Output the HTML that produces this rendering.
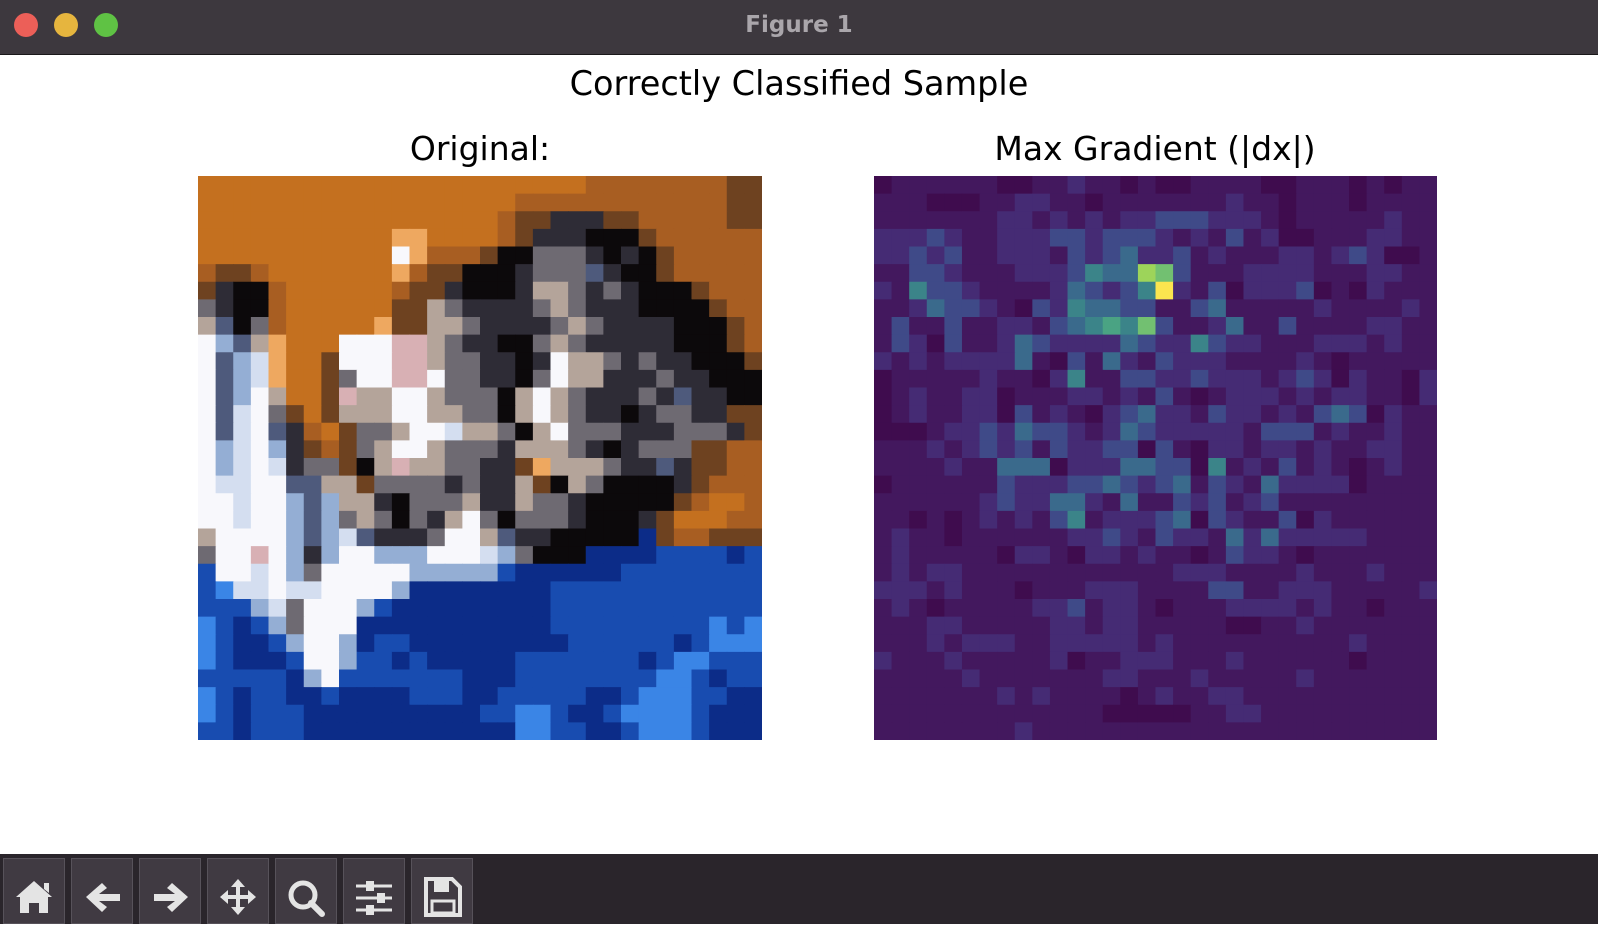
<!DOCTYPE html>
<html><head><meta charset="utf-8"><style>
body{margin:0;width:1598px;height:924px;overflow:hidden;background:#fff;font-family:"DejaVu Sans","Liberation Sans",sans-serif;position:relative}
#titlebar{position:absolute;left:0;top:0;width:1598px;height:54px;background:#3d383e;border-bottom:1px solid #1a181a}
.dot{position:absolute;top:13px;width:24px;height:24px;border-radius:50%}
#wintitle{position:absolute;left:0;width:1598px;top:12px;text-align:center;color:#aaa6ab;font-weight:bold;font-size:23px}
#toolbar{position:absolute;left:0;top:854px;width:1598px;height:70px;background:#2a252b}
.btn{position:absolute;top:4px;width:62px;height:66px;background:#403a42;border:1px solid #57525a;box-sizing:border-box}
.txt{position:absolute;text-align:center;color:#000;white-space:nowrap}
</style></head><body>
<div id="titlebar">
<div class="dot" style="left:14px;background:#ec5f58"></div>
<div class="dot" style="left:54px;background:#e6b53e"></div>
<div class="dot" style="left:94px;background:#5fc244"></div>
<div id="wintitle">Figure 1</div>
</div>
<div class="txt" style="left:0;width:1598px;top:64px;font-size:33.5px">Correctly Classified Sample</div>
<div class="txt" style="left:280px;width:400px;top:129px;font-size:33px">Original:</div>
<div class="txt" style="left:905px;width:500px;top:129px;font-size:33px">Max Gradient (|dx|)</div>
<svg id="orig" style="position:absolute;left:198px;top:176px" width="564" height="564"></svg>
<svg id="grad" style="position:absolute;left:874px;top:176px" width="563" height="564"></svg>
<div id="toolbar">
<div class="btn" style="left:3px"><svg width="60" height="64"><path d="M12 38 L30 22 L48 38 L44 38 L44 54 L35 54 L35 44 L25 44 L25 54 L16 54 L16 38Z M40 24 h5 v10 l-5-4z" fill="#e4e4e4"/></svg></div>
<div class="btn" style="left:71px"><svg width="60" height="64"><path d="M14 38 L30 24 L35 29 L27 35 L48 35 L48 42 L27 42 L35 48 L30 53Z" fill="#e4e4e4"/></svg></div>
<div class="btn" style="left:139px"><svg width="60" height="64"><path d="M48 38 L32 24 L27 29 L35 35 L14 35 L14 42 L35 42 L27 48 L32 53Z" fill="#e4e4e4"/></svg></div>
<div class="btn" style="left:207px"><svg width="60" height="64"><path d="M30 20 L37 28 L32 28 L32 36 L40 36 L40 31 L48 38 L40 45 L40 40 L32 40 L32 48 L37 48 L30 56 L23 48 L28 48 L28 40 L20 40 L20 45 L12 38 L20 31 L20 36 L28 36 L28 28 L23 28Z" fill="#e4e4e4"/></svg></div>
<div class="btn" style="left:275px"><svg width="60" height="64"><circle cx="27" cy="36" r="12" fill="none" stroke="#e4e4e4" stroke-width="5"/><path d="M35 44 L46 55" stroke="#e4e4e4" stroke-width="6" stroke-linecap="round"/></svg></div>
<div class="btn" style="left:343px"><svg width="60" height="64"><g stroke="#e4e4e4" stroke-width="3"><path d="M12 27h36M12 39h36M12 51h36"/></g><g fill="#e4e4e4"><rect x="22" y="22" width="8" height="10"/><rect x="33" y="34" width="8" height="10"/><rect x="22" y="46" width="8" height="10"/></g></svg></div>
<div class="btn" style="left:411px"><svg width="60" height="64"><path d="M14 20 H40 L48 28 V56 H14Z" fill="none" stroke="#e4e4e4" stroke-width="4"/><rect x="22" y="22" width="15" height="11" fill="#e4e4e4"/><rect x="20" y="42" width="22" height="12" fill="none" stroke="#e4e4e4" stroke-width="3"/></svg></div>
</div>
<script>
const origPalette = {o:'#c4701f',r:'#a85e22',n:'#6e4220',k:'#0c090b',d:'#2e2c36',g:'#6e6a72',s:'#b4a49a',w:'#f8f8fc',l:'#d4def0',v:'#4e5a7c',D:'#0c2c88',B:'#184cb0',b:'#3a85e6',c:'#94aed4',p:'#d8b0b4',y:'#eea860'};
const origRows = [
"oooooooooooooooooooooorrrrrrrrnn",
"oooooooooooooooooorrrrrrrrrrrrnn",
"ooooooooooooooooornndddnnrrrrrnn",
"oooooooooooyyoooorndddkkknrrrrrr",
"ooooooooooowyrrrnkkgggdkdknrrrrr",
"rnnroooooooyrnnkkkdgggvdkknrrrrr",
"ndkkroooooornndkkkdssgdgdkkknrrr",
"gdkkroooooonnsgddddgsgdddkkkknrr",
"svkgroooooynnssgddddgsgddddkkknr",
"wcvsyooowwwppsgddkkgsgdddddkkknr",
"wvclyoonwwwppsggddkdwssgdgddkkkn",
"wvclyoongwwppwggddkgwssdddgddkkk",
"wvcwsoonpsswwsgggkswsgdddgdvddkk",
"wvlwgnonssswwssggkswsgddkdggddnn",
"wvlwvdronggswwlssgkswgggdddgggdnn",
"wclwcdnrngswwsgggdsssgdkdgggnnrr",
"wclwldggnkspssggddnysssgddvdnnrr",
"wllwwvvssnggggdgddsnksgkkkkdnrrr",
"wwlwwcvcssdkgggsddsggdkkkkknroor",
"wwlwwcvcgsgkgdswgkgggdkkkdnooorr",
"swwwwcvclvdddgwwsvddkkkkkDnrrnnn",
"gwwpwcdcwwcccwwwlcgkkkDDDDBBBBDB",
"BwwlwcgwwwwwcccccBDDDDDDBBBBBBBB",
"BbllwllwwwwcDDDDDDDDBBBBBBBBBBBB",
"BBBclgwwwcBDDDDDDDDDBBBBBBBBBBBB",
"bBDBcgwwwDDDDDDDDDDDBBBBBBBBBbBb",
"bBDDBcwwcDBBDDDDDDDDDBBBBBBDBbbb",
"bBDDDBwwcBBDBDDDDDBBBBBBBDBbbBBB",
"BBBBBDcwBBBBBBBDDDBBBBBBBBbbBDBB",
"bBDBBDDBDDDDBBBDDBBBBBDDBbbbBBDD",
"bBDBBBDDDDDDDDDDBBbbBDDBbbbbBDDD",
"BBDBBBDDDDDDDDDDDDbbBBDDBbbbBDDD"];
const gradColors = ['#3f0c4e','#43185e','#452b74','#3f4a88','#3a6a8c','#3b8489','#4aa383','#72c071','#9dd45a','#fbe54f'];
const gradRows = [
"01111110011211010011110011101011",
"11100011221101111111211011101111",
"11111112212121223332221011111211",
"22232112223323332121312001112211",
"22323112221323422312111221232001",
"11332111222354487311122221112211",
"21533211112432359213022230102111",
"11243321032544331134111112111121",
"13113112213456573112411311112211",
"13203112432222432253221112221211",
"21212222410314213222111121011111",
"01111121102511332232221232021102",
"01211220111221213101222121221102",
"01211220312102342213221213430211",
"00012232433212432222213331211211",
"11121232313223303102212212112211",
"11112114440222443305121312101211",
"01111113222334323413214222201111",
"11111123224421411323123111111111",
"11010121213512223403211302111111",
"12110111111223213221424222221111",
"12111110221022121101322101111111",
"12122111111111111222111121112111",
"22212111011122211113311222111112",
"12101111122312210111222212110111",
"11122111112212211111001121111111",
"11121222112222212111111111121111",
"21112111112011222111211111101111",
"11111211111112211121111121111111",
"11111112121111012112211111111111",
"11111111111110000011221111111111",
"11111111211111111111111111111111"];
const NS='http://www.w3.org/2000/svg';
function draw(svgId, rows, colorOf, name){
  const svg=document.getElementById(svgId);
  const W=+svg.getAttribute('width'), H=+svg.getAttribute('height');
  const n=rows.length, cw=W/32, ch=H/n;
  rows.forEach((row,i)=>{
    for(let j=0;j<32;j++){
      const ch0=row[j]||row[row.length-1];
      const r=document.createElementNS(NS,'rect');
      r.setAttribute('x',(j*cw).toFixed(2));
      r.setAttribute('y',(i*ch).toFixed(2));
      r.setAttribute('width',(cw+0.6).toFixed(2));
      r.setAttribute('height',(ch+0.6).toFixed(2));
      r.setAttribute('fill',colorOf(ch0));
      
      
      svg.appendChild(r);
    }
  });
}
draw('orig', origRows, c=>origPalette[c]||'#c4701f', 'image-pixel');
draw('grad', gradRows, c=>gradColors[+c]||gradColors[1], 'heatmap-cell');
</script>
</body></html>
